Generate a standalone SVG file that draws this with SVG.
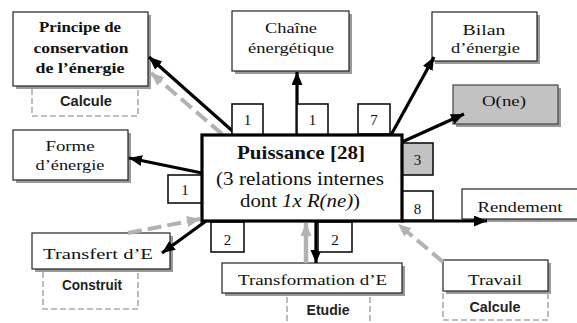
<svg xmlns="http://www.w3.org/2000/svg" width="577" height="323" viewBox="0 0 577 323">
<style>
.box{fill:#fff;stroke:#222;stroke-width:1.2}
.gbox{fill:#c2c2c2;stroke:#444;stroke-width:1.2}
.sh{fill:#9a9a9a}
.num{fill:#fff;stroke:#111;stroke-width:1.6}
.dash{fill:none;stroke:#aaa;stroke-width:1.6;stroke-dasharray:6 3}
.t{font-family:"Liberation Serif","Times New Roman",serif;font-size:15px;fill:#111;text-anchor:middle}
.b{font-weight:bold}
.s{font-family:"Liberation Sans",Arial,sans-serif;font-size:14px;font-weight:bold;fill:#222;text-anchor:middle}
.m{font-family:"Liberation Serif","Times New Roman",serif;font-size:19px;fill:#111;text-anchor:middle}
.k{stroke:#000;stroke-width:3.2;fill:none;marker-end:url(#ak)}
.g{stroke:#b2b2b2;stroke-width:4;fill:none;stroke-dasharray:14 6;marker-end:url(#ag)}
.gs{stroke:#b2b2b2;stroke-width:4.5;fill:none;marker-end:url(#ag)}
</style>
<defs>
<marker id="ak" markerUnits="userSpaceOnUse" markerWidth="14" markerHeight="12" refX="13" refY="5.5" orient="auto"><path d="M0,0 L13,5.5 L0,11 z" fill="#000"/></marker>
<marker id="ag" markerUnits="userSpaceOnUse" markerWidth="14" markerHeight="12" refX="13" refY="5.5" orient="auto"><path d="M0,0 L13,5.5 L0,11 z" fill="#b2b2b2"/></marker>
</defs>
<rect width="577" height="323" fill="#fff"/>

<g id="principe">
<rect class="sh" x="16" y="15" width="135" height="74"/>
<rect class="box" x="13" y="12" width="135" height="74"/>
<text class="t b" x="80" y="32" textLength="82" lengthAdjust="spacingAndGlyphs">Principe de</text>
<text class="t b" x="81" y="53" textLength="95" lengthAdjust="spacingAndGlyphs">conservation</text>
<text class="t b" x="80" y="72.5" textLength="89" lengthAdjust="spacingAndGlyphs">de l’énergie</text>
</g>
<g id="calcule1">
<path class="dash" d="M32,89 V116 H138 V89"/>
<text class="s" x="86" y="106" textLength="52" lengthAdjust="spacingAndGlyphs">Calcule</text>
</g>

<g id="chaine">
<rect class="sh" x="235" y="14" width="117" height="60"/>
<rect class="box" x="232" y="11" width="117" height="60"/>
<text class="t" x="291" y="33" textLength="52" lengthAdjust="spacingAndGlyphs">Chaîne</text>
<text class="t" x="291" y="53" textLength="86" lengthAdjust="spacingAndGlyphs">énergétique</text>
</g>

<g id="bilan">
<rect class="sh" x="435" y="15" width="105" height="49"/>
<rect class="box" x="432" y="12" width="105" height="49"/>
<text class="t" x="484" y="35" textLength="43" lengthAdjust="spacingAndGlyphs">Bilan</text>
<text class="t" x="485.5" y="53" textLength="69" lengthAdjust="spacingAndGlyphs">d’énergie</text>
</g>

<g id="one">
<rect class="sh" x="456" y="88" width="105" height="39"/>
<rect class="gbox" x="453" y="85" width="105" height="39"/>
<text class="t" x="504" y="106" textLength="44" lengthAdjust="spacingAndGlyphs">O(ne)</text>
</g>

<g id="forme">
<rect class="sh" x="16" y="133" width="115" height="50"/>
<rect class="box" x="13" y="130" width="115" height="50"/>
<text class="t" x="70" y="151" textLength="49" lengthAdjust="spacingAndGlyphs">Forme</text>
<text class="t" x="70" y="170" textLength="69" lengthAdjust="spacingAndGlyphs">d’énergie</text>
</g>

<g id="transfert">
<rect class="sh" x="35" y="236" width="138" height="36"/>
<rect class="box" x="32" y="233" width="138" height="36"/>
<text class="t" x="98" y="259" textLength="110" lengthAdjust="spacingAndGlyphs">Transfert d’E</text>
</g>
<g id="construit">
<path class="dash" d="M43,272 V309 H138 V272"/>
<text class="s" x="92" y="290" textLength="60" lengthAdjust="spacingAndGlyphs">Construit</text>
</g>

<g id="transformation">
<rect class="sh" x="225" y="266" width="180" height="30"/>
<rect class="box" x="222" y="263" width="180" height="30"/>
<text class="t" x="312.5" y="285" textLength="149" lengthAdjust="spacingAndGlyphs">Transformation d’E</text>
</g>
<g id="etudie">
<path class="dash" d="M287,297 V326 M370,297 V326"/>
<text class="s" x="328" y="315" textLength="43" lengthAdjust="spacingAndGlyphs">Etudie</text>
</g>

<g id="travail">
<rect class="sh" x="446" y="263" width="105" height="31"/>
<rect class="box" x="443" y="260" width="105" height="31"/>
<text class="t" x="495" y="285" textLength="54" lengthAdjust="spacingAndGlyphs">Travail</text>
</g>
<g id="calcule2">
<path class="dash" d="M443,293 V320 H548 V293"/>
<text class="s" x="495" y="312" textLength="51" lengthAdjust="spacingAndGlyphs">Calcule</text>
</g>

<g id="rendement">
<rect class="sh" x="465" y="192" width="115" height="30"/>
<rect class="box" x="462" y="189" width="118" height="30"/>
<text class="t" x="520" y="212" textLength="85" lengthAdjust="spacingAndGlyphs">Rendement</text>
</g>

<g id="connectors">
<line class="k" x1="237" y1="135" x2="149" y2="57"/>
<line class="g" x1="222" y1="134" x2="151" y2="73"/>
<line class="k" x1="297" y1="135" x2="297" y2="72"/>
<line class="k" x1="391" y1="135" x2="434" y2="57"/>
<line class="k" x1="402" y1="142" x2="464" y2="114"/>
<line class="k" x1="202" y1="173" x2="129" y2="158"/>
<line class="k" x1="206" y1="221" x2="162" y2="253"/>
<line class="g" x1="128" y1="233" x2="200" y2="219"/>
<line class="k" x1="316" y1="222" x2="316" y2="263"/>
<line class="gs" x1="306" y1="263" x2="306" y2="223"/>
<line class="g" x1="443" y1="262" x2="398" y2="224"/>
<line class="k" x1="402" y1="221" x2="487" y2="221"/>
</g>

<g id="n1a"><rect class="num" x="232" y="104" width="31" height="31"/><text class="t" x="247.5" y="125">1</text></g>
<g id="n1b"><rect class="num" x="297" y="104" width="31" height="31"/><text class="t" x="312.5" y="125">1</text></g>
<g id="n7"><rect class="num" x="358" y="104" width="32" height="30"/><text class="t" x="374" y="125">7</text></g>
<g id="n1c"><rect class="num" x="168" y="175" width="34" height="28"/><text class="t" x="185" y="195">1</text></g>
<g id="n3"><rect class="num" x="402" y="143" width="31" height="32" style="fill:#c2c2c2"/><text class="t" x="417.5" y="165">3</text></g>
<g id="n8"><rect class="num" x="402" y="191" width="31" height="29"/><text class="t" x="417.5" y="214">8</text></g>
<g id="n2a"><rect class="num" x="211" y="222" width="33" height="30"/><text class="t" x="227.5" y="245">2</text></g>
<g id="n2b"><rect class="num" x="318" y="222" width="34" height="30"/><text class="t" x="335" y="245">2</text></g>

<g id="puissance">
<rect x="202" y="135" width="200" height="86" fill="#fff" stroke="#000" stroke-width="3.2"/>
<text class="m b" x="301" y="159" textLength="128" lengthAdjust="spacingAndGlyphs">Puissance [28]</text>
<text class="m" x="300" y="185" textLength="168" lengthAdjust="spacingAndGlyphs">(3 relations internes</text>
<text class="m" x="300" y="207" textLength="120" lengthAdjust="spacingAndGlyphs">dont <tspan font-style="italic">1x R(ne)</tspan>)</text>
</g>
</svg>
